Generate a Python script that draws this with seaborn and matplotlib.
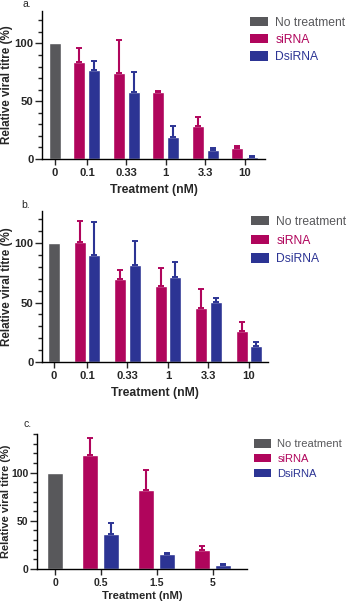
import numpy as np
import pandas as pd
import matplotlib
matplotlib.use("Agg")
import matplotlib.pyplot as plt
import seaborn as sns
from matplotlib.patches import Patch
from matplotlib.ticker import MultipleLocator, FixedLocator

sns.set_style("ticks")
plt.rcParams["font.family"] = ["Liberation Sans", "DejaVu Sans"]

# ---------------- data ----------------
series_names = ["No treatment", "siRNA", "DsiRNA"]
control_label = "0"
control_value = 100

conc_a = ["0.1", "0.33", "1", "3.3", "10"]
sirna_a = [84, 74.4, 57.8, 28.4, 9.5]
sirna_err_a = [12, 28.6, 1.4, 8.1, 1.7]
dsirna_a = [77.3, 58, 18.7, 7.8, 1.7]
dsirna_err_a = [7.2, 17.3, 9.5, 2.0, 0.6]

conc_b = ["0.1", "0.33", "1", "3.3", "10"]
sirna_b = [101, 70, 63.8, 45, 26.2]
sirna_err_b = [17.5, 7, 15.4, 16.5, 7.7]
dsirna_b = [90.3, 81.2, 71.8, 50.7, 13.4]
dsirna_err_b = [27.1, 20.8, 12.2, 3.1, 3.1]

conc_c = ["0.5", "1.5", "5"]
sirna_c = [117.9, 82.4, 19.7]
sirna_err_c = [18, 20, 4.4]
dsirna_c = [36.6, 15.2, 4.1]
dsirna_err_c = [10.6, 1.0, 1.4]

colors = {"No treatment": "#58585b", "siRNA": "#b0055c", "DsiRNA": "#2c3494"}

W, H = 348, 601
fig = plt.figure(figsize=(W / 100, H / 100), dpi=100)


def px_axes(left, right, top, bottom):
    return fig.add_axes([left / W, 1 - bottom / H, (right - left) / W, (bottom - top) / H])


def new_containers(ax, n0):
    return [c for c in ax.containers[n0:] if len(c) > 0]


def panel(ax, box, conc, si, si_err, ds, ds_err, ymax, xlim, width, gap,
          tfs, xlfs, ylfs, lfs, leg_xy, lspace, label_xy, letter, ylab_x, xlab_pad):
    left, right, top, bottom = box
    order = [control_label] + conc
    ctrl = pd.DataFrame({"conc": [control_label], "titre": [control_value],
                         "Treatment": [series_names[0]]})
    n0 = len(ax.containers)
    sns.barplot(data=ctrl, x="conc", y="titre", hue="Treatment", order=order,
                hue_order=["_slot", series_names[0]],
                palette={"_slot": "white", series_names[0]: colors[series_names[0]]},
                width=width, gap=gap, dodge=True, legend=False, saturation=1,
                errorbar=None, ax=ax)
    ctrl_conts = new_containers(ax, n0)
    df = pd.DataFrame({"conc": conc * 2, "titre": si + ds,
                       "Treatment": [series_names[1]] * len(conc) + [series_names[2]] * len(conc)})
    n1 = len(ax.containers)
    sns.barplot(data=df, x="conc", y="titre", hue="Treatment", order=order,
                hue_order=series_names[1:],
                palette={k: colors[k] for k in series_names[1:]},
                width=width, gap=gap, dodge=True, legend=False, saturation=1,
                errorbar=None, ax=ax)
    ser_conts = new_containers(ax, n1)
    for cont, err, name in [(ser_conts[0], si_err, series_names[1]),
                            (ser_conts[1], ds_err, series_names[2])]:
        bars = sorted(cont, key=lambda b: b.get_x())
        xs = [b.get_x() + b.get_width() / 2 for b in bars]
        ys = [b.get_height() for b in bars]
        ax.errorbar(xs, ys, yerr=[np.zeros(len(err)), err], fmt="none",
                    ecolor=colors[name], elinewidth=1.5, capsize=2.0, capthick=1.4,
                    zorder=1)
    if ctrl_conts:
        gb = ctrl_conts[0][0]
    else:
        gb = [p for p in ax.patches if p.get_height() > 0][0]
    gx = gb.get_x() + gb.get_width() / 2
    ax.xaxis.set_major_locator(FixedLocator([gx] + list(range(1, len(order)))))
    ax.set_xticklabels(order, fontweight="bold", fontsize=tfs)
    ax.set_xlim(*xlim)
    ax.set_ylim(0, ymax)
    ax.yaxis.set_major_locator(FixedLocator([0, 50, 100]))
    ax.yaxis.set_minor_locator(MultipleLocator(10))
    ax.set_yticklabels(["0", "50", "100"], fontweight="bold", fontsize=tfs)
    ax.tick_params(axis="y", which="major", length=5, width=1, pad=1.2)
    ax.tick_params(axis="y", which="minor", length=3, width=1)
    ax.tick_params(axis="x", which="major", length=4, width=1, pad=2.5)
    ax.tick_params(axis="x", which="minor", length=0)
    for s in ["left", "bottom"]:
        ax.spines[s].set_linewidth(1)
        ax.spines[s].set_color("black")
    sns.despine(ax=ax)
    ax.set_xlabel("Treatment (nM)", fontweight="bold", fontsize=xlfs, labelpad=xlab_pad)
    ax.set_ylabel("Relative viral titre (%)", fontweight="bold", fontsize=ylfs)
    ax.yaxis.set_label_coords((ylab_x - left) / (right - left), 0.5)

    handles = [Patch(facecolor=colors[n], edgecolor="none") for n in series_names]
    leg = ax.legend(handles, series_names, loc="upper left",
                    bbox_to_anchor=(leg_xy[0] / W, 1 - leg_xy[1] / H),
                    bbox_transform=fig.transFigure, frameon=False, fontsize=lfs,
                    handlelength=1.5, handleheight=0.8, handletextpad=0.6,
                    labelspacing=lspace, borderpad=0, borderaxespad=0)
    for t, n in zip(leg.get_texts(), series_names):
        t.set_color(colors[n])
    fig.text(label_xy[0] / W, 1 - label_xy[1] / H, letter, fontsize=7.5,
             va="center", ha="left")


box_a = (42, 265, 11, 159)
ax_a = px_axes(*box_a)
panel(ax_a, box_a, conc_a, sirna_a, sirna_err_a, dsirna_a, dsirna_err_a, 128,
      (-0.14, 5.51), 0.76, 0.2, 8.1, 8.8, 8.4, 8.7, (250, 17), 0.42,
      (22, 4), "a.", 13, 4)

box_b = (42, 268, 211, 362)
ax_b = px_axes(*box_b)
panel(ax_b, box_b, conc_b, sirna_b, sirna_err_b, dsirna_b, dsirna_err_b, 127,
      (-0.11, 5.47), 0.72, 0.17, 8.1, 8.8, 8.4, 8.7, (251, 216), 0.55,
      (21, 205), "b.", 13, 4)

box_c = (37, 247, 434, 569)
ax_c = px_axes(*box_c)
panel(ax_c, box_c, conc_c, sirna_c, sirna_err_c, dsirna_c, dsirna_err_c, 140,
      (-0.14, 3.61), 0.75, 0.24, 7.5, 8.1, 8.0, 8.0, (254, 439), 0.42,
      (24, 424), "c.", 11.5, 2)

fig.savefig("out.png", dpi=100)
